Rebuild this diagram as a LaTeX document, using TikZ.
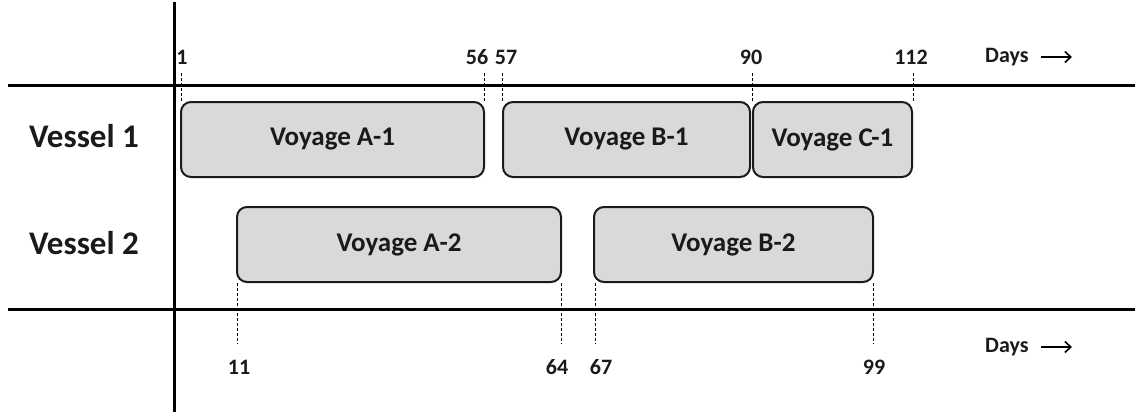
\documentclass[tikz,border=0pt]{standalone}
\usepackage{fontspec}
\setmainfont{Carlito}
\usetikzlibrary{arrows.meta}
\definecolor{boxfill}{HTML}{D9D9D9}
\definecolor{ink}{HTML}{1A1A1A}
\tikzset{
  voyage/.style={draw=ink, fill=boxfill, line width=2pt, rounded corners=10pt,
    inner sep=0pt, minimum height=75pt, text=ink,
    font=\fontsize{27}{27}\selectfont\bfseries},
  vessel/.style={font=\fontsize{33}{33}\selectfont\bfseries, text=ink, inner sep=0pt},
  daynum/.style={font=\fontsize{22}{22}\selectfont\bfseries, text=ink, inner sep=0pt},
  axis/.style={line width=3pt, black},
  tick/.style={line width=1pt, dash pattern=on 3pt off 2pt, black},
  dayarrow/.style={line width=1.6pt, -{Straight Barb[length=6pt,width=11pt,line width=1.6pt]}}
}
\begin{document}
\begin{tikzpicture}[x=1pt,y=-1pt]
\useasboundingbox (0,0) rectangle (1135,412);

% frame lines
\coordinate (vtop) at (174,2);
\coordinate (vbot) at (174,412);
\coordinate (h1l) at (8,85);
\coordinate (h1r) at (1135,85);
\coordinate (h2l) at (8,309);
\coordinate (h2r) at (1135,309);
\draw[axis] (vtop) -- (vbot);
\draw[axis] (h1l) -- (h1r);
\draw[axis] (h2l) -- (h2r);

% row labels
\node[vessel] (v1) at (84,136) {Vessel 1};
\node[vessel] (v2) at (84,243) {Vessel 2};

% voyages of vessel 1
\node[voyage, minimum width=303pt] (A1) at (332.5,139.5) {Voyage A-1};
\node[voyage, minimum width=247pt] (B1) at (626.5,139.5) {Voyage B-1};
\node[voyage, minimum width=159pt] (C1) at (832.5,139.5) {Voyage C-1};

% voyages of vessel 2
\node[voyage, minimum width=324pt] (A2) at (399,244.5) {Voyage A-2};
\node[voyage, minimum width=279pt] (B2) at (733.5,244.5) {Voyage B-2};

% day numbers above
\node[daynum] (d1)   at (182,57) {1};
\node[daynum] (d56)  at (477,57) {56};
\node[daynum] (d57)  at (506,57) {57};
\node[daynum] (d90)  at (751,57) {90};
\node[daynum] (d112) at (911,57) {112};
\node[daynum, anchor=west] (daysT) at (985,57) {Days};

% day numbers below
\node[daynum] (d11) at (239,367) {11};
\node[daynum] (d64) at (557,367) {64};
\node[daynum] (d67) at (601,367) {67};
\node[daynum] (d99) at (874,367) {99};
\node[daynum, anchor=west] (daysB) at (985,347) {Days};

% arrows after the Days labels
\coordinate (aT) at (1072,57);
\coordinate (aB) at (1072,347);
\draw[dayarrow] ([xshift=12pt]daysT.east) -- (aT);
\draw[dayarrow] ([xshift=12pt]daysB.east) -- (aB);

% dashed ticks from the voyage edges
\draw[tick] ([xshift=1pt]A1.north west) -- ++(0,-29);
\draw[tick] ([xshift=-1pt]A1.north east) -- ++(0,-29);
\draw[tick] (B1.north west) -- ++(0,-29);
\draw[tick] ([xshift=1pt]B1.north east) -- ++(0,-29);
\draw[tick] (C1.north east) -- ++(0,-29);
\draw[tick] ([xshift=1pt]A2.south west) -- ++(0,61);
\draw[tick] ([xshift=-1pt]A2.south east) -- ++(0,61);
\draw[tick] ([xshift=2pt]B2.south west) -- ++(0,61);
\draw[tick] ([xshift=-1pt]B2.south east) -- ++(0,61);
\end{tikzpicture}
\end{document}
